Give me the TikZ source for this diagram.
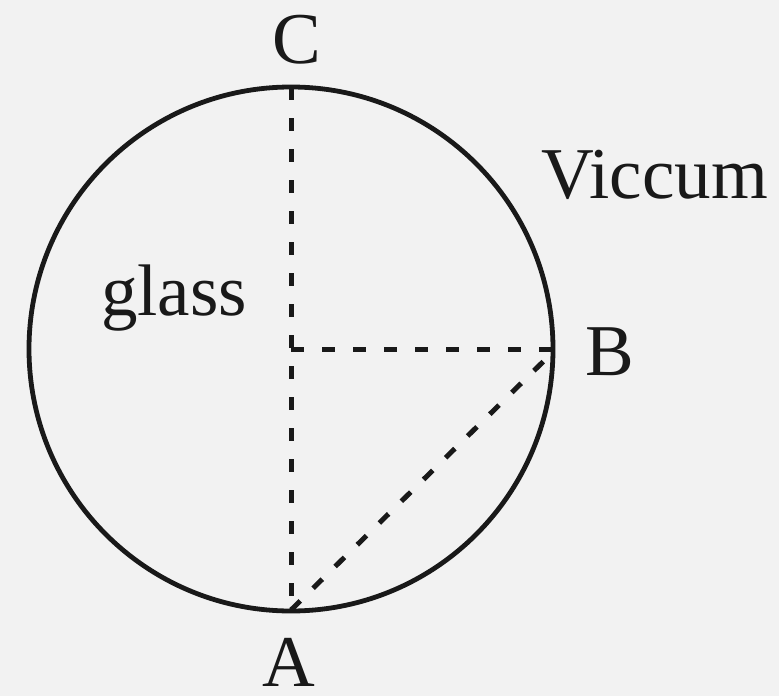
\documentclass[tikz,border=0pt]{standalone}
\usepackage{fontspec}
\setmainfont{Liberation Serif}
\begin{document}
\begin{tikzpicture}[x=1pt,y=-1pt,
  lbl/.style={anchor=base,inner sep=0pt,font=\fontsize{73}{80}\selectfont,text=black!90},
  dline/.style={line width=5pt,dash pattern=on 13pt off 18pt,black!90},
  rim/.style={line width=4.8pt,black!90}]
\fill[black!5] (0,0) rectangle (779,696);
\useasboundingbox (0,0) rectangle (779,696);
\coordinate (O) at (291,349);
\coordinate (Cpt) at (291,87);
\coordinate (Apt) at (291,610);
\coordinate (Bpt) at (556,349);
\draw[rim] (O) circle[radius=262];
\draw[dline] (Cpt) -- (Apt);
\draw[dline] (O) -- (Bpt);
\draw[dline] (Apt) -- (Bpt);
\node[lbl] (C) at (297,63) {C};
\node[lbl] (A) at (289,686) {A};
\node[lbl] (B) at (610,375) {B};
\node[lbl,anchor=base west] (V) at (541,198) {Viccum};
\node[lbl,anchor=base west] (G) at (101,315) {glass};
\end{tikzpicture}
\end{document}
